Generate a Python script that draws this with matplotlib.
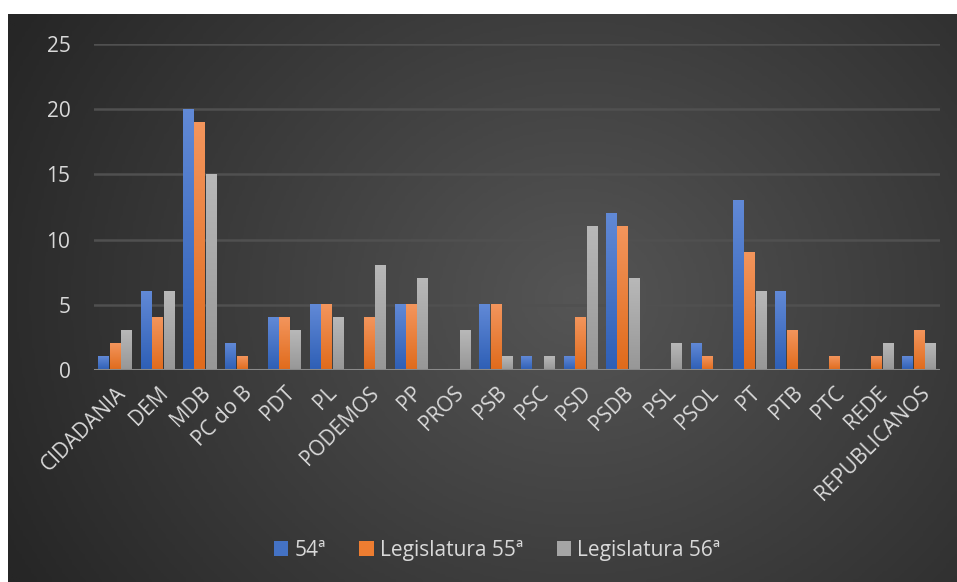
import numpy as np
import matplotlib
matplotlib.use("Agg")
import matplotlib.pyplot as plt
from matplotlib.patches import Patch
from matplotlib.colors import LinearSegmentedColormap

plt.rcParams['font.family'] = ['Open Sans', 'DejaVu Sans']

categories = ["CIDADANIA", "DEM", "MDB", "PC do B", "PDT", "PL", "PODEMOS", "PP", "PROS",
              "PSB", "PSC", "PSD", "PSDB", "PSL", "PSOL", "PT", "PTB", "PTC", "REDE", "REPUBLICANOS"]
series_names = ["54ª", "Legislatura 55ª", "Legislatura 56ª"]
leg54 = [1, 6, 20, 2, 4, 5, 0, 5, 0, 5, 1, 1, 12, 0, 2, 13, 6, 0, 0, 1]
leg55 = [2, 4, 19, 1, 4, 5, 4, 5, 0, 5, 0, 4, 11, 0, 1, 9, 3, 1, 1, 3]
leg56 = [3, 6, 15, 0, 3, 4, 8, 7, 3, 1, 1, 11, 7, 2, 0, 6, 0, 0, 2, 2]
yticks = [0, 5, 10, 15, 20, 25]

series = [leg54, leg55, leg56]
colors = ["#4472C4", "#ED7D31", "#A5A5A5"]
tops = ["#6189d6", "#f3955c", "#b8b8b8"]
bottoms = ["#2e5fb6", "#e06b1c", "#979797"]

W, H = 957, 582
fig = plt.figure(figsize=(W / 100, H / 100), dpi=100, facecolor="white")

# background panel with radial gradient
bg = fig.add_axes([8 / W, 0, 949 / W, 568 / H])
bg.set_axis_off()
ny, nx = 200, 330
yy, xx = np.mgrid[0:1:ny * 1j, 0:1:nx * 1j]
d = np.sqrt(((xx - 0.6) * 1.25) ** 2 + ((yy - 0.5) * 0.85) ** 2)
d = np.clip(d / 0.85, 0, 1)
cmap_bg = LinearSegmentedColormap.from_list("bg", ["#555555", "#262626"])
bg.imshow(d, cmap=cmap_bg, aspect="auto", extent=(0, 1, 0, 1), origin="lower", vmin=0, vmax=1)
bg.set_xlim(0, 1)
bg.set_ylim(0, 1)

# plot axes
left, right = 94, 940
top_y, bot_y = 44, 370
ax = fig.add_axes([left / W, 1 - bot_y / H, (right - left) / W, (bot_y - top_y) / H])
ax.patch.set_alpha(0)
n = len(categories)
x = np.arange(n)
bw = 0.25
gap = 0.02
offsets = [-(bw + gap), 0, (bw + gap)]
grad = np.linspace(0, 1, 64).reshape(-1, 1)
for s, vals in enumerate(series):
    cm = LinearSegmentedColormap.from_list("c%d" % s, [bottoms[s], tops[s]])
    for i, v in enumerate(vals):
        if v <= 0:
            continue
        x0 = x[i] + offsets[s] - bw / 2
        ax.imshow(grad, cmap=cm, aspect="auto", origin="lower",
                  extent=(x0, x0 + bw, 0, v), zorder=3, interpolation="bilinear")

ax.set_xlim(-0.5, n - 0.5)
ax.set_ylim(0, 25)
ax.set_yticks(yticks)
ax.set_yticklabels([str(t) for t in yticks])
ax.yaxis.grid(True, color="#505050", linewidth=1.8, zorder=0)
ax.set_axisbelow(True)
for sp in ax.spines.values():
    sp.set_visible(False)
ax.axhline(0, color="#8a8a8a", linewidth=2.2, zorder=4)
ax.tick_params(axis="both", length=0, colors="#d9d9d9", labelsize=15)
ax.tick_params(axis="y", pad=17)
ax.set_xticks(x)
ax.set_xticklabels(categories, rotation=45, ha="right", rotation_mode="anchor", color="#d9d9d9", fontsize=15)
ax.tick_params(axis="x", pad=9)

handles = [Patch(facecolor=c, edgecolor="none") for c in colors]
fig.legend(handles, series_names, loc="center", bbox_to_anchor=(497 / W, 1 - 550 / H), ncol=3,
           frameon=False, fontsize=15, labelcolor="#d9d9d9", handlelength=0.7, handleheight=0.7,
           handletextpad=0.3, columnspacing=1.6)

fig.savefig("out.png", dpi=100, facecolor="white")
